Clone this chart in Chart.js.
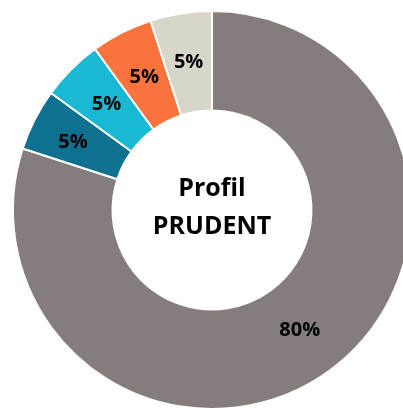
<!DOCTYPE html>
<html>
<head>
<meta charset="utf-8">
<script src="https://cdn.jsdelivr.net/npm/chart.js@4"></script>
<style>
  html, body { margin: 0; padding: 0; background: #fff; overflow: hidden; }
  #wrap { position: absolute; left: 0; top: 0; width: 424px; height: 420px; }
</style>
</head>
<body>
<div id="wrap"><canvas id="profilChart" width="424" height="420"></canvas></div>
<script>
/* ---------------------------
   Data
--------------------------- */
const categories = ["Part 1", "Part 2", "Part 3", "Part 4", "Part 5"];
const shares = [80, 5, 5, 5, 5];
const sliceColors = ["#847d7c", "#0f7190", "#1ab9d3", "#f8743c", "#d8d5c9"];
const centerLines = ["Profil", "PRUDENT"];

const FONT = "'Open Sans', 'DejaVu Sans', sans-serif";

/* ---------------------------
   Labels on slices + center text
--------------------------- */
const labelPlugin = {
  id: "labelPlugin",
  afterDatasetsDraw(chart) {
    const ctx = chart.ctx;
    const meta = chart.getDatasetMeta(0);
    ctx.save();
    ctx.fillStyle = "#000";
    ctx.textAlign = "center";
    ctx.textBaseline = "middle";
    ctx.font = `bold 20px ${FONT}`;
    meta.data.forEach((arc, i) => {
      const p = arc.tooltipPosition();
      // first small slice label sits a bit further out in the original
      const dx = i === 1 ? -6 : 0;
      ctx.fillText(`${shares[i]}%`, p.x + dx, p.y);
    });

    const cx = meta.data[0].x;
    const cy = meta.data[0].y;
    ctx.font = `bold 25px ${FONT}`;
    ctx.fillText(centerLines[0], cx, cy - 21);
    ctx.fillText(centerLines[1], cx, cy + 17);
    ctx.restore();
  }
};

/* ---------------------------
   Chart
--------------------------- */
new Chart(document.getElementById("profilChart"), {
  type: "doughnut",
  data: {
    labels: categories,
    datasets: [{
      data: shares,
      backgroundColor: sliceColors,
      borderColor: "#ffffff",
      borderWidth: 2
    }]
  },
  options: {
    responsive: false,
    animation: false,
    cutout: "50%",
    layout: { padding: 10 },
    plugins: {
      legend: { display: false },
      tooltip: { enabled: false }
    }
  },
  plugins: [labelPlugin]
});
</script>
</body>
</html>
